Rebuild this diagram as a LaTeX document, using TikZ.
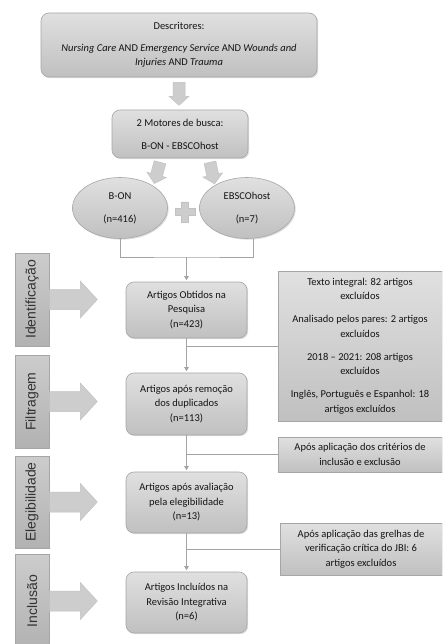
\documentclass[tikz,border=0pt]{standalone}
\usepackage{fontspec}
\setmainfont{Carlito}
\newfontfamily\labfont{Liberation Sans}
\usetikzlibrary{shapes.geometric,shadows,arrows.meta}

\definecolor{boxtop}{HTML}{E0E0E0}
\definecolor{boxbot}{HTML}{C0C0C0}
\definecolor{boxline}{HTML}{A6A6A6}
\definecolor{labtop}{HTML}{CCCCCC}
\definecolor{labbot}{HTML}{B2B2B2}
\definecolor{arrfill}{HTML}{CDCDCD}
\definecolor{arrline}{HTML}{C2C2C2}
\definecolor{connline}{HTML}{A3A3A3}
\definecolor{txt}{HTML}{141414}
\definecolor{labtxt}{HTML}{333333}

\begin{document}
\begin{tikzpicture}[x=1pt,y=-1pt,
  every node/.style={text=txt, inner sep=0pt},
  shade box/.style={draw=boxline, line width=0.6pt, top color=boxtop, bottom color=boxbot,
    drop shadow={opacity=0.25, shadow xshift=1.2pt, shadow yshift=-1.2pt}},
  body font/.style={font=\fontsize{10.5}{14.5}\selectfont},
  stage/.style={shade box, rounded corners=8pt, minimum width=121pt, align=center, body font},
  note/.style={shade box, minimum width=164pt, align=center, body font},
  source/.style={shade box, ellipse, minimum width=95pt, minimum height=61pt, align=center, body font},
  phase/.style={shade box, top color=labtop, bottom color=labbot, minimum width=34pt, minimum height=93pt},
  phasetext/.style={rotate=90, font=\labfont\fontsize{14}{16}\selectfont, text=labtxt},
  blockarrow/.style={fill=arrfill, draw=arrline, line width=0.5pt},
  conn/.style={draw=connline, line width=0.8pt},
  arrowed/.style={-{Triangle[length=4pt,width=4.5pt]}, shorten >=1.5pt},
  pics/darr/.style={code={\path[blockarrow] (-6,0) -- (-6,#1-9) -- (-10,#1-9) -- (0,#1)
      -- (10,#1-9) -- (6,#1-9) -- (6,0) -- cycle;}},
  pics/rarr/.style={code={\path[blockarrow] (0,-10) -- (31,-10) -- (31,-18.5) -- (48,0)
      -- (31,18.5) -- (31,10) -- (0,10) -- cycle;}},
]
\clip (0,0) rectangle (442,644);
\fill[white] (0,0) rectangle (442,644);

% search terms and databases
\node[stage, minimum width=276pt, minimum height=64pt, font=\fontsize{10.5}{14}\selectfont] (desc) at (179,45)
  {Descritores:\\[8pt]
   \textit{Nursing Care} AND \textit{Emergency Service} AND \textit{Wounds and}\\
   \textit{Injuries} AND \textit{Trauma}};
\node[stage, minimum width=136pt, minimum height=48pt] (mot) at (180,134)
  {2 Motores de busca:\\[8.5pt] B-ON - EBSCOhost};
\node[source] (bon) at (120,208) {B-ON\\[8.5pt](n=416)};
\node[source] (ebsco) at (247,208) {EBSCOhost\\[8.5pt](n=7)};

\pic at ([yshift=-5pt]desc.south) {darr=23};
\pic[rotate=-15] at ([xshift=-20pt,yshift=-4pt]mot.south) {darr=22};
\pic[rotate=12] at ([xshift=30pt,yshift=-4pt]mot.south) {darr=22};

% plus sign between the two sources
\path[blockarrow] (181.5,202) -- (188.5,202) -- (188.5,208.5) -- (195,208.5) -- (195,215.5)
  -- (188.5,215.5) -- (188.5,222) -- (181.5,222) -- (181.5,215.5) -- (175,215.5)
  -- (175,208.5) -- (181.5,208.5) -- cycle;

% screening stages
\node[stage, minimum height=56pt] (obt) at (186.5,310)
  {Artigos Obtidos na\\ Pesquisa\\ (n=423)};
\node[stage, minimum height=62pt] (rem) at (186.5,404)
  {Artigos após remoção\\ dos duplicados\\ (n=113)};
\node[stage, minimum height=61pt] (eleg) at (186.5,502.5)
  {Artigos após avaliação\\ pela elegibilidade\\ (n=13)};
\node[stage, minimum height=61pt] (incl) at (186.5,602.5)
  {Artigos Incluídos na\\ Revisão Integrativa\\ (n=6)};

% exclusion notes
\node[note, minimum height=150pt] (r1) at (360,346)
  {Texto integral: 82 artigos\\ excluídos\\[8.5pt]
   Analisado pelos pares: 2 artigos\\ excluídos\\[8.5pt]
   2018 – 2021: 208 artigos\\ excluídos\\[8.5pt]
   Inglês, Português e Espanhol: 18\\ artigos excluídos};
\node[note, minimum height=35pt] (r2) at (360,454.5)
  {Após aplicação dos critérios de\\ inclusão e exclusão};
\node[note, minimum width=162pt, minimum height=52pt] (r3) at (361,549)
  {Após aplicação das grelhas de\\ verificação crítica do JBI: 6\\ artigos excluídos};

% phase labels
\node[phase] (ph1) at (32,299.5) {};
\node[phasetext] (ph1t) at (ph1) {Identificação};
\node[phase] (ph2) at (32,401.5) {};
\node[phasetext] (ph2t) at (ph2) {Filtragem};
\node[phase, minimum height=92pt] (ph3) at (32,502) {};
\node[phasetext] (ph3t) at (ph3) {Elegibilidade};
\node[phase] (ph4) at (32,601) {};
\node[phasetext] (ph4t) at (ph4) {Inclusão};

\pic at (ph1.east) {rarr};
\pic at (ph2.east) {rarr};
\pic at (ph3.east) {rarr};
\pic at (ph4.east) {rarr};

% connectors
\coordinate (brk) at (186.5,257);
\draw[conn] (bon.south) |- (brk) -| ([xshift=6pt]ebsco.south);
\draw[conn, arrowed] (brk) -- (obt.north);
\draw[conn, arrowed] (obt.south) -- (rem.north);
\draw[conn, arrowed] (rem.south) -- (eleg.north);
\draw[conn, arrowed] (eleg.south) -- (incl.north);
\draw[conn] (r1.west) -- (r1.west -| obt.south);
\draw[conn] (r2.west) -- (r2.west -| rem.south);
\draw[conn] (r3.west) -- (r3.west -| eleg.south);
\end{tikzpicture}
\end{document}
